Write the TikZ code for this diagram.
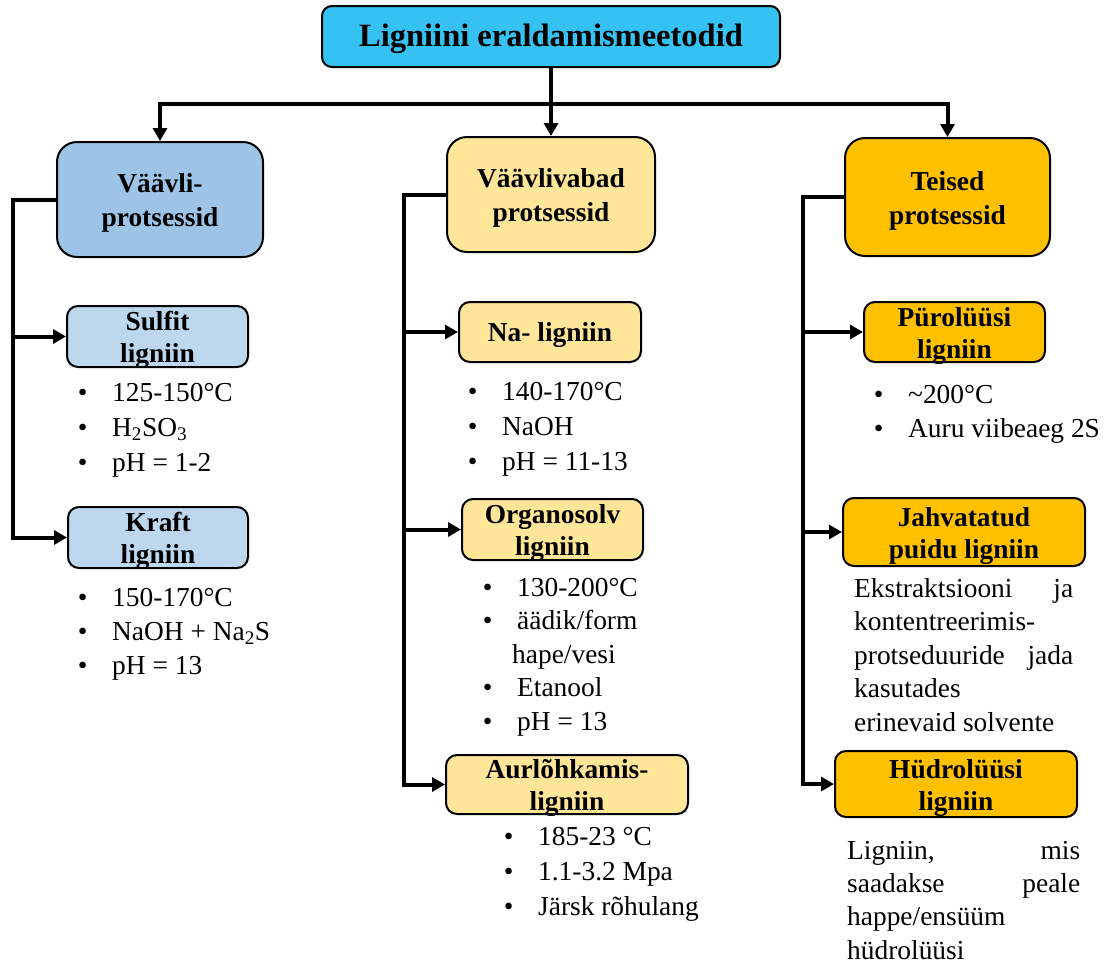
\documentclass[tikz,border=0pt]{standalone}
\usepackage{fontspec}
\setmainfont{Liberation Serif}
\usetikzlibrary{arrows.meta}

\definecolor{topblue}{RGB}{53,193,241}
\definecolor{catblue}{RGB}{157,195,230}
\definecolor{subblue}{RGB}{189,215,238}
\definecolor{paleyellow}{RGB}{255,230,153}
\definecolor{amber}{RGB}{255,192,0}

% bullet hung to the left of the item text
\newcommand\bitem{\llap{\makebox[59pt]{\textbullet}}}

\begin{document}
\begin{tikzpicture}[x=1pt,y=-1pt,
  box/.style={draw=black, line width=2pt, align=center, inner sep=0pt},
  % text height/depth push the two-line labels a little below the box centre
  catbox/.style={box, rounded corners=20pt, text height=60.5pt, font=\bfseries\fontsize{27.4}{34}\selectfont},
  subbox/.style={box, rounded corners=11pt, text height=52.5pt, text depth=0pt, font=\bfseries\fontsize{27.4}{32}\selectfont},
  conn/.style={line width=4pt},
  arr/.style={conn, -{Triangle[length=13pt,width=14pt]}},
  % the base anchor of these blocks is the baseline of their last line
  list/.style={anchor=base west, inner sep=0pt, align=left, font=\fontsize{27.4}{35}\selectfont},
  para/.style={anchor=base west, inner sep=0pt, align=left, font=\fontsize{27.4}{33.5}\selectfont},
]
\useasboundingbox (0,0) rectangle (1106,962);

% root
\node[box, fill=topblue, rounded corners=10pt, minimum width=458pt, minimum height=61pt, text height=28pt,
      font=\bfseries\fontsize{32.5}{38}\selectfont] (root) at (551,36.5) {Ligniini eraldamismeetodid};

% process families
\node[catbox, fill=catblue, minimum width=206pt, minimum height=115pt] (sulf) at (160,199.5) {Väävli-\\protsessid};
\node[catbox, fill=paleyellow, minimum width=208pt, minimum height=115pt] (free) at (551,194.5) {Väävlivabad\\protsessid};
\node[catbox, fill=amber, minimum width=205pt, minimum height=118pt] (other) at (947.5,197) {Teised\\protsessid};

% lignin types
\node[subbox, fill=subblue, minimum width=181pt, minimum height=61pt] (sulfit) at (157.5,336.5) {Sulfit\\ligniin};
\node[subbox, fill=subblue, minimum width=180pt, minimum height=61pt] (kraft) at (158,537.5) {Kraft\\ligniin};
\node[subbox, fill=paleyellow, minimum width=182pt, minimum height=60pt, text height=24pt, text depth=6pt] (na) at (550,332) {Na- ligniin};
\node[subbox, fill=paleyellow, minimum width=181pt, minimum height=61pt] (organo) at (552.5,529.5) {Organosolv\\ligniin};
\node[subbox, fill=paleyellow, minimum width=242pt, minimum height=59pt] (steam) at (567,784.5) {Aurlõhkamis-\\ligniin};
\node[subbox, fill=amber, minimum width=181pt, minimum height=60pt] (pyro) at (954.5,332) {Pürolüüsi\\ligniin};
\node[subbox, fill=amber, minimum width=242pt, minimum height=68pt] (milled) at (964,532) {Jahvatatud\\puidu ligniin};
\node[subbox, fill=amber, minimum width=242pt, minimum height=66pt] (hydro) at (956,784) {Hüdrolüüsi\\ligniin};

% conditions
\node[list] (sulfitlist) at (112,471) {\bitem 125-150°C\\\bitem H\textsubscript{2}SO\textsubscript{3}\\\bitem pH = 1-2};
\node[list, font=\fontsize{27.4}{34}\selectfont] (kraftlist) at (112,674) {\bitem 150-170°C\\\bitem NaOH + Na\textsubscript{2}S\\\bitem pH = 13};
\node[list] (nalist) at (502,470) {\bitem 140-170°C\\\bitem NaOH\\\bitem pH = 11-13};
\node[list, font=\fontsize{27.4}{33.5}\selectfont] (organolist) at (517,730) {\bitem 130-200°C\\\bitem äädik/form\\\hspace*{-5pt}hape/vesi\\\bitem Etanool\\\bitem pH = 13};
\node[list] (steamlist) at (538,915) {\bitem 185-23 °C\\\bitem 1.1-3.2 Mpa\\\bitem Järsk rõhulang};
\node[list, font=\fontsize{27.4}{34}\selectfont] (pyrolist) at (908,437) {\bitem \textasciitilde200°C\\\bitem Auru viibeaeg 2S};
\node[para] (milledtext) at (854,731) {\makebox[219pt][s]{Ekstraktsiooni\hfill ja}\\kontentreerimis-\\\makebox[219pt][s]{protseduuride\hfill jada}\\kasutades\\erinevaid solvente};
\node[para, font=\fontsize{27.4}{33.3}\selectfont] (hydrotext) at (847,959) {\makebox[233pt][s]{Ligniin,\hfill mis}\\\makebox[233pt][s]{saadakse\hfill peale}\\happe/ensüüm\\hüdrolüüsi};

% top-level connectors
\coordinate (bus) at (551,104);
\draw[arr] (root.south) -- (free.north);
\draw[conn, {Triangle[length=13pt,width=14pt]}-{Triangle[length=13pt,width=14pt]}]
  (sulf.north) -- (sulf.north |- bus) -- (other.north |- bus) -- (other.north);

% left spine
\coordinate (lx) at (13,0);
\draw[arr] (sulf.west) -| (lx |- kraft.west) -- (kraft.west);
\draw[arr] (lx |- sulfit.west) -- (sulfit.west);

% middle spine
\coordinate (mx) at (404,0);
\draw[arr] (free.west) -| (mx |- steam.west) -- (steam.west);
\draw[arr] (mx |- na.west) -- (na.west);
\draw[arr] (mx |- organo.west) -- (organo.west);

% right spine
\coordinate (rx) at (803,0);
\draw[arr] (other.west) -| (rx |- hydro.west) -- (hydro.west);
\draw[arr] (rx |- pyro.west) -- (pyro.west);
\draw[arr] (rx |- milled.west) -- (milled.west);
\end{tikzpicture}
\end{document}
